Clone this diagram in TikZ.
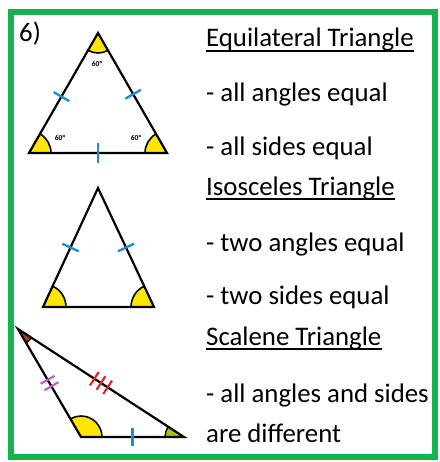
\documentclass[tikz,border=0pt]{standalone}
\usepackage{fontspec}
\setmainfont{Carlito}
\usetikzlibrary{calc,angles}
\definecolor{bordergreen}{RGB}{22,178,80}
\definecolor{tickblue}{RGB}{30,140,205}
\definecolor{angyellow}{RGB}{255,230,0}
\definecolor{tickred}{RGB}{230,30,40}
\definecolor{tickpink}{RGB}{200,90,180}
\definecolor{angbrown}{RGB}{165,60,35}
\definecolor{anggreen}{RGB}{160,195,30}
\tikzset{
  tri/.style={draw=black, line width=2.2pt, line join=miter},
  angmark/.style={draw=black, line width=1.6pt, fill=angyellow},
  tickmark/.style={draw=tickblue, line width=2.3pt},
  multitick/.style={line width=2.1pt},
  txt/.style={anchor=base west, inner sep=0pt, font=\fontsize{26.8}{26.8}\selectfont},
  deg/.style={inner sep=0pt, font=\fontsize{7.5}{7.5}\selectfont\bfseries},
  ul/.style={line width=1.5pt}
}
\begin{document}
\begin{tikzpicture}[x=1pt,y=-1pt]
\useasboundingbox (0,0) rectangle (439,462);
\fill[white] (0,0) rectangle (439,462);
\draw[bordergreen, line width=5.5pt] (11,12) rectangle (435,457);

\node[txt] (num) at (19,42) {6)};

% Equilateral
\coordinate (eT) at (98,33);
\coordinate (eL) at (29,153);
\coordinate (eR) at (167,153);
\pic[angmark, angle radius=22pt] {angle = eR--eL--eT};
\pic[angmark, angle radius=22pt] {angle = eT--eR--eL};
\pic[angmark, angle radius=20pt] {angle = eL--eT--eR};
\draw[tri] (eT) -- (eL) -- (eR) -- cycle;
\coordinate (m1) at ($(eT)!0.53!(eL)$);
\coordinate (m2) at ($(eT)!0.51!(eR)$);
\coordinate (m3) at ($(eL)!0.5!(eR)$);
\draw[tickmark] ($(m1)!9pt!90:(eL)$) -- ($(m1)!9pt!-90:(eL)$);
\draw[tickmark] ($(m2)!9pt!90:(eR)$) -- ($(m2)!9pt!-90:(eR)$);
\draw[tickmark] ($(m3)!10pt!90:(eR)$) -- ($(m3)!10pt!-90:(eR)$);
\node[deg] (d1) at (97,64) {60°};
\node[deg] (d2) at (60,138) {60°};
\node[deg] (d3) at (136,138) {60°};

% Isosceles
\coordinate (iT) at (98,188);
\coordinate (iL) at (43,307);
\coordinate (iR) at (154,307);
\pic[angmark, angle radius=23pt] {angle = iR--iL--iT};
\pic[angmark, angle radius=23pt] {angle = iT--iR--iL};
\draw[tri] (iT) -- (iL) -- (iR) -- cycle;
\coordinate (n1) at ($(iT)!0.5!(iL)$);
\coordinate (n2) at ($(iT)!0.5!(iR)$);
\draw[tickmark] ($(n1)!9pt!90:(iL)$) -- ($(n1)!9pt!-90:(iL)$);
\draw[tickmark] ($(n2)!9pt!90:(iR)$) -- ($(n2)!9pt!-90:(iR)$);

% Scalene
\coordinate (sT) at (18,329);
\coordinate (sL) at (81,437);
\coordinate (sR) at (184,437);
\pic[draw=black, line width=1.4pt, fill=angbrown, angle radius=16pt] {angle = sL--sT--sR};
\pic[angmark, angle radius=21pt] {angle = sR--sL--sT};
\pic[draw=black, line width=1.4pt, fill=anggreen, angle radius=19pt] {angle = sT--sR--sL};
\draw[tri] (sT) -- (sL) -- (sR) -- cycle;
% double tick (pink)
\coordinate (p1) at ($(sT)!0.47!(sL)$);
\coordinate (p2) at ($(sT)!0.53!(sL)$);
\draw[tickpink, multitick] ($(p1)!8pt!90:(sL)$) -- ($(p1)!8pt!-90:(sL)$);
\draw[tickpink, multitick] ($(p2)!8pt!90:(sL)$) -- ($(p2)!8pt!-90:(sL)$);
% triple tick (red)
\coordinate (r1) at ($(sT)!0.46!(sR)$);
\coordinate (r2) at ($(sT)!0.5!(sR)$);
\coordinate (r3) at ($(sT)!0.54!(sR)$);
\draw[tickred, multitick] ($(r1)!8pt!90:(sR)$) -- ($(r1)!8pt!-90:(sR)$);
\draw[tickred, multitick] ($(r2)!8pt!90:(sR)$) -- ($(r2)!8pt!-90:(sR)$);
\draw[tickred, multitick] ($(r3)!8pt!90:(sR)$) -- ($(r3)!8pt!-90:(sR)$);
% single tick (blue)
\coordinate (b1) at ($(sL)!0.5!(sR)$);
\draw[tickmark] ($(b1)!9pt!90:(sR)$) -- ($(b1)!9pt!-90:(sR)$);

% Texts
\node[txt] (h1) at (206,47) {Equilateral Triangle};
\draw[ul] ($(h1.base west)+(0,4)$) -- ($(h1.base east)+(0,4)$);
\node[txt] (t1) at (206,102) {- all angles equal};
\node[txt] (t2) at (206,156) {- all sides equal};
\node[txt] (h2) at (206,195) {Isosceles Triangle};
\draw[ul] ($(h2.base west)+(0,4)$) -- ($(h2.base east)+(0,4)$);
\node[txt] (t3) at (206,251) {- two angles equal};
\node[txt] (t4) at (206,304) {- two sides equal};
\node[txt] (h3) at (206,345) {Scalene Triangle};
\draw[ul] ($(h3.base west)+(0,4)$) -- ($(h3.base east)+(0,4)$);
\node[txt] (t5) at (206,402) {- all angles and sides};
\node[txt] (t6) at (206,442) {are different};
\end{tikzpicture}
\end{document}
